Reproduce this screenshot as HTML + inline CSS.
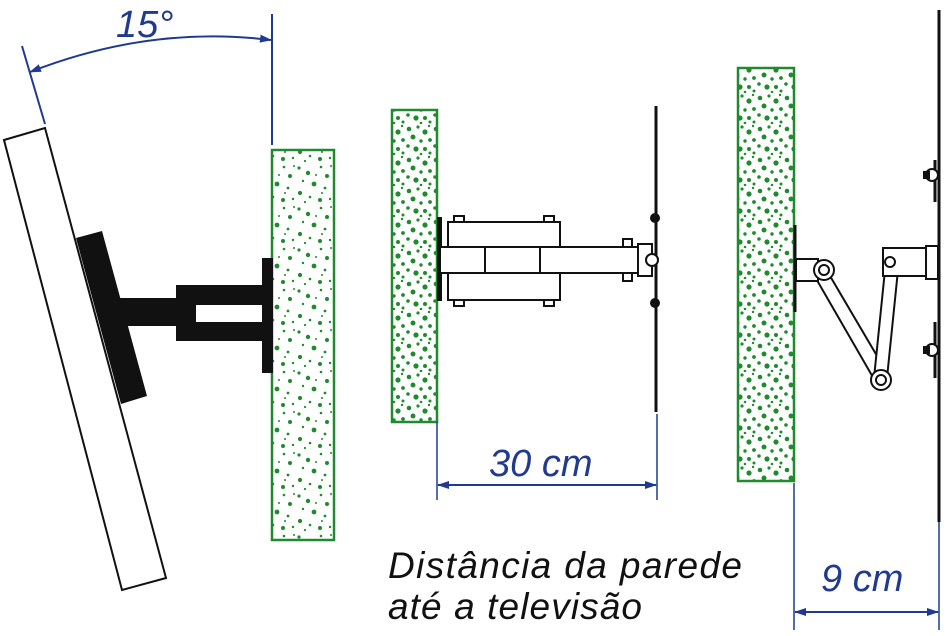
<!DOCTYPE html>
<html><head><meta charset="utf-8"><style>body{margin:0;background:#fff}svg{display:block}</style></head><body>
<svg width="949" height="636" viewBox="0 0 949 636" xmlns="http://www.w3.org/2000/svg">
<defs>
<pattern id="sp" width="37" height="41" patternUnits="userSpaceOnUse">
<g fill="#1f8a2e">
<circle cx="3" cy="4" r="1.6"/><circle cx="12" cy="9" r="2.2"/><circle cx="25" cy="3" r="1.3"/><circle cx="31" cy="12" r="2"/><circle cx="7" cy="17" r="1.2"/><circle cx="18" cy="20" r="2.4"/><circle cx="29" cy="24" r="1.4"/><circle cx="4" cy="29" r="2.1"/><circle cx="14" cy="33" r="1.3"/><circle cx="24" cy="36" r="2"/><circle cx="34" cy="35" r="1.2"/><circle cx="20" cy="11" r="1"/><circle cx="9" cy="38" r="1.1"/><circle cx="35" cy="2" r="1"/><circle cx="26" cy="29" r="1"/>
</g></pattern>
<pattern id="sp2" width="27" height="31" patternUnits="userSpaceOnUse">
<g fill="#1f8a2e">
<circle cx="4" cy="5" r="2.3"/><circle cx="13" cy="3" r="1.6"/><circle cx="20" cy="8" r="2.6"/><circle cx="25" cy="16" r="1.9"/><circle cx="8" cy="13" r="2.5"/><circle cx="16" cy="17" r="1.7"/><circle cx="3" cy="22" r="1.8"/><circle cx="11" cy="25" r="2.6"/><circle cx="20" cy="25" r="2"/><circle cx="25" cy="29" r="1.5"/><circle cx="16" cy="30" r="1.3"/><circle cx="24" cy="2" r="1.2"/>
</g></pattern>
<marker id="ar" markerWidth="12" markerHeight="8" refX="11" refY="4" orient="auto-start-reverse" markerUnits="userSpaceOnUse"><path d="M0,0 L12,4 L0,8 Z" fill="#1f3a8f"/></marker>
</defs>

<!-- LEFT -->
<rect x="272" y="150" width="62" height="390" fill="url(#sp)" stroke="#1f8a2e" stroke-width="2.5"/>
<polygon points="4,140 45,128 166,578 122,590" fill="#fff" stroke="#111" stroke-width="2"/>
<polygon points="76,238 102,231 147,396 121,404" fill="#111"/>
<rect x="114" y="298" width="66" height="28" fill="#111"/>
<rect x="176" y="285" width="90" height="56" fill="#111"/>
<rect x="196" y="305" width="66" height="17" fill="#fff"/>
<rect x="262" y="258" width="11" height="115" fill="#111"/>
<g stroke="#1f3a8f" stroke-width="2" fill="none">
<line x1="272" y1="14" x2="272" y2="145"/>
<line x1="45" y1="124" x2="22" y2="46"/>
<path d="M30,72 Q150,25 271,40" marker-start="url(#ar)" marker-end="url(#ar)"/>
</g>
<text x="116" y="37" font-family="Liberation Sans, sans-serif" font-style="italic" font-size="38" fill="#1f3a8f">15°</text>

<!-- MIDDLE -->
<rect x="392" y="110" width="45" height="312" fill="url(#sp2)" stroke="#1f8a2e" stroke-width="2.5"/>
<line x1="656" y1="106" x2="656" y2="412" stroke="#111" stroke-width="3"/>
<rect x="437" y="217" width="5" height="84" fill="#111"/>
<g stroke="#111" stroke-width="2" fill="#fff">
<rect x="448" y="222" width="112" height="78"/>
<rect x="440" y="247" width="45" height="26"/>
<rect x="485" y="247" width="55" height="26"/>
<rect x="540" y="247" width="98" height="26"/>
<rect x="638" y="244" width="14" height="32"/>
<rect x="454" y="216" width="10" height="6"/><rect x="544" y="216" width="10" height="6"/>
<rect x="454" y="300" width="10" height="6"/><rect x="544" y="300" width="10" height="6"/>
<rect x="623" y="239" width="9" height="8"/><rect x="623" y="273" width="9" height="8"/>
</g>
<circle cx="655" cy="218" r="5" fill="#111"/><circle cx="655" cy="303" r="5" fill="#111"/>
<circle cx="652" cy="260" r="6" fill="#fff" stroke="#111" stroke-width="2"/>
<g stroke="#1f3a8f" stroke-width="1.5" fill="none">
<line x1="437" y1="422" x2="437" y2="500"/><line x1="657" y1="414" x2="657" y2="500"/>
<line x1="438" y1="485" x2="656" y2="485" stroke-width="2" marker-start="url(#ar)" marker-end="url(#ar)"/>
</g>
<text x="489" y="476" font-family="Liberation Sans, sans-serif" font-style="italic" font-size="38" fill="#1f3a8f">30 cm</text>

<!-- RIGHT -->
<rect x="738" y="68" width="56" height="413" fill="url(#sp2)" stroke="#1f8a2e" stroke-width="2.5"/>
<line x1="939" y1="10" x2="939" y2="522" stroke="#111" stroke-width="3"/>
<line x1="935" y1="160" x2="935" y2="202" stroke="#111" stroke-width="3"/>
<line x1="935" y1="322" x2="935" y2="378" stroke="#111" stroke-width="3"/>
<line x1="795" y1="225" x2="795" y2="312" stroke="#111" stroke-width="3"/>
<circle cx="932" cy="175" r="6" fill="#fff" stroke="#111" stroke-width="2"/><rect x="923" y="171" width="7" height="8" fill="#111"/>
<circle cx="932" cy="350" r="6" fill="#fff" stroke="#111" stroke-width="2"/><rect x="923" y="346" width="7" height="8" fill="#111"/>
<g stroke="#111" stroke-width="2" fill="#fff">
<rect x="796" y="259" width="22" height="22"/>
<polygon points="818,262 830,276 890,378 878,386 818,282"/>
<polygon points="885,270 898,270 887,378 874,378"/>
<rect x="883" y="248" width="45" height="28"/>
<rect x="926" y="246" width="12" height="33"/>
<circle cx="824" cy="270" r="10"/><circle cx="824" cy="270" r="5"/>
<circle cx="881" cy="380" r="10"/><circle cx="881" cy="380" r="5"/>
<circle cx="890" cy="262" r="5"/>
</g>
<g stroke="#1f3a8f" stroke-width="1.5" fill="none">
<line x1="794" y1="483" x2="794" y2="630"/><line x1="939" y1="522" x2="939" y2="630"/>
<line x1="795" y1="612" x2="938" y2="612" stroke-width="2" marker-start="url(#ar)" marker-end="url(#ar)"/>
</g>
<text x="821" y="591" font-family="Liberation Sans, sans-serif" font-style="italic" font-size="38" fill="#1f3a8f">9 cm</text>

<text x="388" y="578" font-family="Liberation Sans, sans-serif" font-style="italic" font-size="37" fill="#111" textLength="354" lengthAdjust="spacing">Distância da parede</text>
<text x="388" y="619" font-family="Liberation Sans, sans-serif" font-style="italic" font-size="37" fill="#111" textLength="254" lengthAdjust="spacing">até a televisão</text>
</svg>
</body></html>
